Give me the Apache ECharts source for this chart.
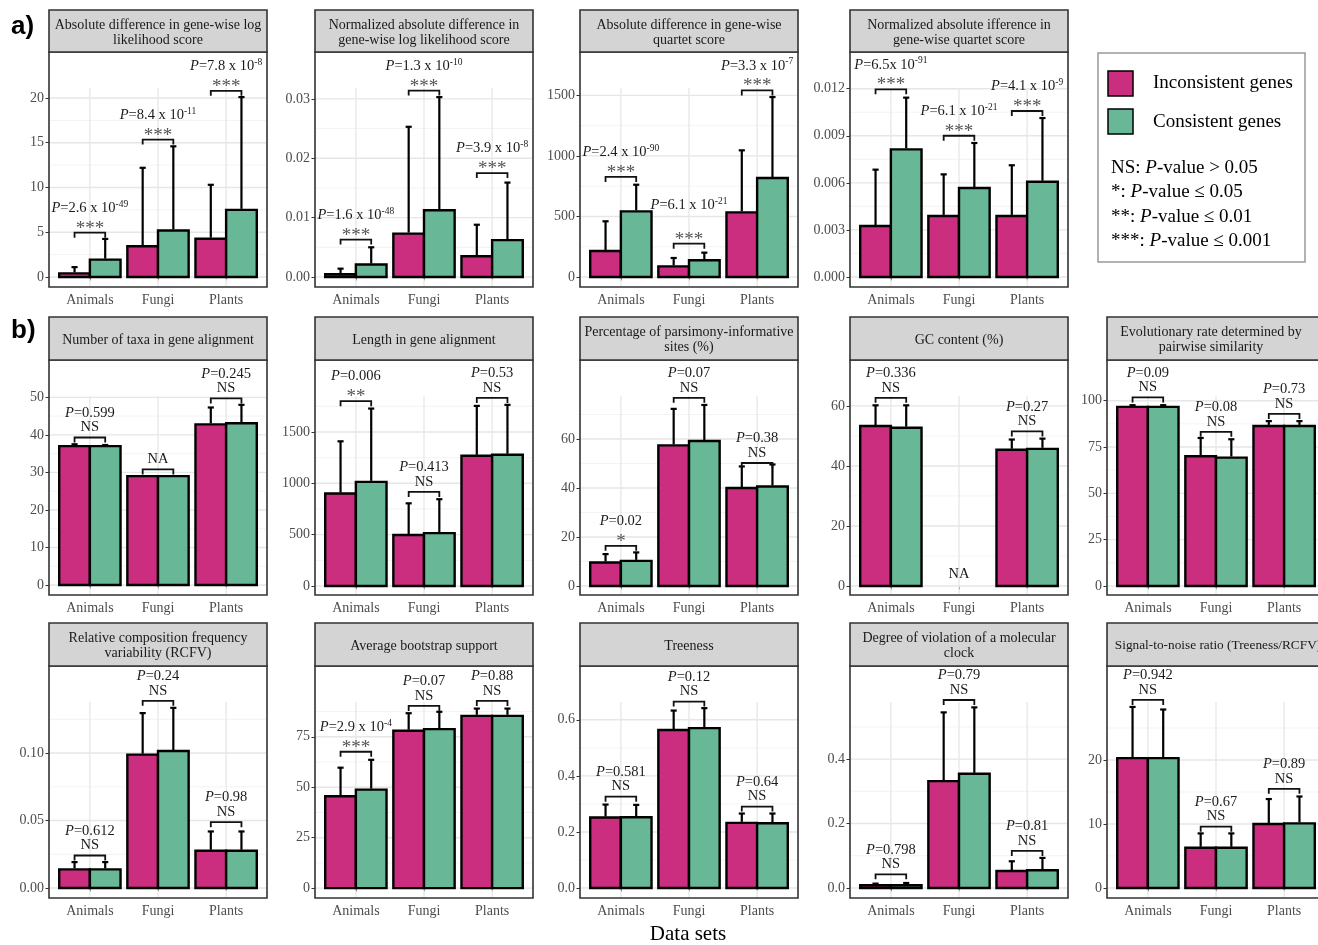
<!DOCTYPE html>
<html>
<head>
<meta charset="utf-8">
<script src="https://cdn.jsdelivr.net/npm/echarts@6/dist/echarts.min.js"></script>
<style>
  html, body { margin: 0; padding: 0; background: #fff; }
  #chart { width: 1318px; height: 945px; }
</style>
</head>
<body>
<div id="chart"></div>
<script>
window.addEventListener('load', () => {

const categories = ['Animals', 'Fungi', 'Plants'];
const groups = ['Inconsistent genes', 'Consistent genes'];

const panelTitles = [
  'Absolute difference in gene-wise log\nlikelihood score',
  'Normalized absolute difference in\ngene-wise log likelihood score',
  'Absolute difference in gene-wise\nquartet score',
  'Normalized absolute ifference in\ngene-wise quartet score',
  'Number of taxa in gene alignment',
  'Length in gene alignment',
  'Percentage of parsimony-informative\nsites (%)',
  'GC content (%)',
  'Evolutionary rate determined by\npairwise similarity',
  'Relative composition frequency\nvariability (RCFV)',
  'Average bootstrap support',
  'Treeness',
  'Degree of violation of a molecular\nclock',
  'Signal-to-noise ratio (Treeness/RCFV)'
];

// mean values (bar heights)
const incMeans = [
  [0.4, 3.43, 4.28], [0.00045, 0.0073, 0.0035], [215, 88, 534], [0.00325, 0.00389, 0.00389],
  [37.0, 29.0, 42.8], [900, 496, 1268], [9.6, 57.4, 40.0], [53.3, null, 45.4], [96.7, 70.0, 86.4],
  [0.0138, 0.0988, 0.0276], [45.5, 78.0, 85.4], [0.2515, 0.5635, 0.2325], [0.0083, 0.3316, 0.0528], [20.3, 6.28, 10.0]
];
const conMeans = [
  [1.94, 5.2, 7.5], [0.0021, 0.01124, 0.0062], [542, 138, 817], [0.00813, 0.00567, 0.00607],
  [37.0, 29.0, 43.1], [1014, 515, 1278], [10.25, 59.2, 40.6], [52.75, null, 45.7], [96.7, 69.3, 86.4],
  [0.0138, 0.1015, 0.0276], [48.8, 78.8, 85.4], [0.2527, 0.5705, 0.231], [0.0083, 0.3544, 0.0549], [20.3, 6.28, 10.1]
];
// upper ends of the error bars
const incErrTop = [
  [1.1, 12.2, 10.3], [0.0014, 0.0253, 0.0088], [460, 157, 1046], [0.00684, 0.00654, 0.00712],
  [37.5, null, 47.3], [1409, 805, 1754], [13.0, 72.3, 48.8], [60.2, null, 48.8], [97.6, 79.9, 89.0],
  [0.0192, 0.1296, 0.0419], [59.7, 86.7, 89.0], [0.2977, 0.633, 0.2657], [0.0135, 0.545, 0.0829], [28.3, 8.53, 13.9]
];
const conErrTop = [
  [4.25, 14.6, 20.1], [0.0050, 0.0303, 0.0159], [762, 201, 1486], [0.01143, 0.00854, 0.01013],
  [37.3, null, 48.0], [1728, 845, 1764], [13.7, 73.9, 49.6], [60.2, null, 49.1], [97.6, 79.2, 89.0],
  [0.0192, 0.1335, 0.0419], [63.6, 87.4, 89.0], [0.2966, 0.6417, 0.2657], [0.0155, 0.5606, 0.0933], [27.9, 8.53, 14.3]
];
// height of the comparison brackets
const bracketY = [
  [4.95, 15.35, 20.8], [0.0063, 0.0314, 0.0175], [826, 275, 1541], [0.01196, 0.0090, 0.01058],
  [39.3, 30.8, 49.7], [1800, 916, 1832], [16.4, 76.8, 50.2], [62.7, null, 51.5], [101.8, 83.2, 92.9],
  [0.0241, 0.1387, 0.0488], [67.6, 90.3, 92.8], [0.326, 0.665, 0.2906], [0.0425, 0.5834, 0.115], [29.4, 9.58, 15.5]
];
const pLabels = [
  ['2.6 x 10^-49', '8.4 x 10^-11', '7.8 x 10^-8'],
  ['1.6 x 10^-48', '1.3 x 10^-10', '3.9 x 10^-8'],
  ['2.4 x 10^-90', '6.1 x 10^-21', '3.3 x 10^-7'],
  ['6.5x 10^-91', '6.1 x 10^-21', '4.1 x 10^-9'],
  ['0.599', null, '0.245'],
  ['0.006', '0.413', '0.53'],
  ['0.02', '0.07', '0.38'],
  ['0.336', null, '0.27'],
  ['0.09', '0.08', '0.73'],
  ['0.612', '0.24', '0.98'],
  ['2.9 x 10^-4', '0.07', '0.88'],
  ['0.581', '0.12', '0.64'],
  ['0.798', '0.79', '0.81'],
  ['0.942', '0.67', '0.89']
];
const sigLabels = [
  ['***', '***', '***'], ['***', '***', '***'], ['***', '***', '***'], ['***', '***', '***'],
  ['NS', 'NA', 'NS'], ['**', 'NS', 'NS'], ['*', 'NS', 'NS'], ['NS', 'NA', 'NS'], ['NS', 'NS', 'NS'],
  ['NS', 'NS', 'NS'], ['***', 'NS', 'NS'], ['NS', 'NS', 'NS'], ['NS', 'NS', 'NS'], ['NS', 'NS', 'NS']
];
// NA label without bracket (GC content, Fungi)
const looseLabels = [{ panel: 7, category: 1, y: 3.9 }];

// y axis: breaks, decimals, limits [bottom, top of panel incl. label space]
const yBreaks = [
  [0, 5, 10, 15, 20], [0, 0.01, 0.02, 0.03], [0, 500, 1000, 1500], [0, 0.003, 0.006, 0.009, 0.012],
  [0, 10, 20, 30, 40, 50], [0, 500, 1000, 1500], [0, 20, 40, 60], [0, 20, 40, 60], [0, 25, 50, 75, 100],
  [0, 0.05, 0.10], [0, 25, 50, 75], [0, 0.2, 0.4, 0.6], [0, 0.2, 0.4], [0, 10, 20]
];
const yDecimals = [0, 2, 0, 3, 0, 0, 0, 0, 0, 2, 0, 1, 1, 0];
const yLimits = [
  [-1.12, 25.14], [-0.00169, 0.0379], [-82.6, 1858], [-0.00064, 0.01434],
  [-2.66, 59.95], [-88, 2201], [-3.69, 92.25], [-3.0, 75.3], [-4.9, 122],
  [-0.0074, 0.1645], [-4.9, 110.1], [-0.0356, 0.792], [-0.0311, 0.689], [-1.57, 34.7]
];

// ---------- layout ----------
const SERIF = "'Liberation Serif', 'DejaVu Serif', serif";
const INC = '#CB2E7F';
const CON = '#68B898';
const colLeft = [49, 315, 580, 850, 1107];
const panelW = 218;
const rows = [
  { stripTop: 10, stripBottom: 52, plotBottom: 287 },
  { stripTop: 317, stripBottom: 360, plotBottom: 595 },
  { stripTop: 623, stripBottom: 666, plotBottom: 898 }
];
const slots = [[0,0],[0,1],[0,2],[0,3],[1,0],[1,1],[1,2],[1,3],[1,4],[2,0],[2,1],[2,2],[2,3],[2,4]];
const GG_PAD = 36;       // space between strip and the gridded area
const pLift = { '2,1': 14 };
const titleShift = { 8: -5, 13: 2 };
const titleSize = { 13: 13.3 };

const richP = {
  n: { fontFamily: SERIF, fontSize: 14.5, fill: '#1a1a1a', lineHeight: 18 },
  i: { fontFamily: SERIF, fontSize: 14.5, fontStyle: 'italic', fill: '#1a1a1a', lineHeight: 18 },
  s: { fontFamily: SERIF, fontSize: 9.5, fill: '#1a1a1a', lineHeight: 9, verticalAlign: 'top' }
};
const pText = (s) => {
  const parts = s.split('^');
  return '{i|P}{n|=' + parts[0] + '}' + (parts[1] ? '{s|' + parts[1] + '}' : '');
};

const minorBreaks = (b) => {
  const out = [];
  for (let k = 0; k < b.length - 1; k++) out.push((b[k] + b[k + 1]) / 2);
  out.push(b[b.length - 1] + (b[1] - b[0]) / 2);
  return out;
};

const option = {
  animation: false,
  backgroundColor: '#fff',
  grid: [], xAxis: [], yAxis: [], series: [], graphic: []
};

panelTitles.forEach((title, i) => {
  const row = rows[slots[i][0]];
  const left = colLeft[slots[i][1]];

  option.grid.push({
    left: left, top: row.stripBottom, width: panelW, height: row.plotBottom - row.stripBottom,
    show: true, borderColor: '#333', borderWidth: 1.6, backgroundColor: '#fff',
    containLabel: false, outerBoundsMode: 'none'
  });

  option.xAxis.push({
    gridIndex: i, type: 'value', min: 0.4, max: 3.6,
    axisLine: { show: false },
    axisTick: { show: true, length: 3.5, customValues: [1, 2, 3], lineStyle: { color: '#333', width: 1 } },
    axisLabel: {
      customValues: [1, 2, 3], formatter: v => categories[Math.round(v) - 1],
      color: '#4D4D4D', fontFamily: SERIF, fontSize: 14, margin: 6
    },
    splitLine: { show: false }
  });

  option.yAxis.push({
    gridIndex: i, type: 'value', min: yLimits[i][0], max: yLimits[i][1],
    axisLine: { show: false },
    axisTick: { show: true, length: 3.5, customValues: yBreaks[i], lineStyle: { color: '#333', width: 1 } },
    axisLabel: {
      customValues: yBreaks[i], formatter: v => v.toFixed(yDecimals[i]),
      color: '#4D4D4D', fontFamily: SERIF, fontSize: 14, margin: 5
    },
    splitLine: { show: false }
  });

  // grid lines
  const lines = []
    .concat(yBreaks[i].map(v => [1, v, 0]))
    .concat(minorBreaks(yBreaks[i]).map(v => [1, v, 1]))
    .concat([1, 2, 3].map(x => [x, 0, 2]));
  option.series.push({
    type: 'custom', xAxisIndex: i, yAxisIndex: i, z: 1, silent: true, clip: false,
    data: lines,
    renderItem: (params, api) => {
      const cs = params.coordSys;
      const top = cs.y + GG_PAD;
      const kind = api.value(2);
      if (kind === 2) {
        const x = api.coord([api.value(0), 0])[0];
        return { type: 'line', shape: { x1: x, y1: cs.y + cs.height - 1, x2: x, y2: top },
          style: { stroke: '#E8E8E8', lineWidth: 1.4 } };
      }
      const y = api.coord([1, api.value(1)])[1];
      if (y < top - 1.5) return null;
      return { type: 'line', shape: { x1: cs.x + 1, y1: y, x2: cs.x + cs.width - 1, y2: y },
        style: { stroke: kind === 0 ? '#E6E6E6' : '#F0F0F0', lineWidth: kind === 0 ? 1.4 : 0.8 } };
    }
  });

  // bars
  [incMeans, conMeans].forEach((means, g) => {
    option.series.push({
      type: 'custom', name: groups[g], xAxisIndex: i, yAxisIndex: i, z: 2, silent: true,
      itemStyle: { color: g === 0 ? INC : CON },
      data: categories.map((c, k) => [k + 1, means[i][k] == null ? '-' : means[i][k]]),
      renderItem: (params, api) => {
        const x = api.value(0), v = api.value(1);
        if (isNaN(v)) return null;
        const x0 = g === 0 ? x - 0.45 : x;
        const p0 = api.coord([x0, v]);
        const p1 = api.coord([x0 + 0.45, 0]);
        return { type: 'rect',
          shape: { x: p0[0], y: p0[1], width: p1[0] - p0[0], height: p1[1] - p0[1] },
          style: { fill: api.visual('color'), stroke: '#000', lineWidth: 2.4 } };
      }
    });
  });

  // error bars
  [[incMeans, incErrTop], [conMeans, conErrTop]].forEach((pair, g) => {
    option.series.push({
      type: 'custom', xAxisIndex: i, yAxisIndex: i, z: 3, silent: true, clip: false,
      data: categories.map((c, k) => [k + 1,
        pair[0][i][k] == null ? '-' : pair[0][i][k],
        pair[1][i][k] == null ? '-' : pair[1][i][k]]),
      renderItem: (params, api) => {
        const x = api.value(0) + (g === 0 ? -0.225 : 0.225);
        const m = api.value(1), e = api.value(2);
        if (isNaN(m) || isNaN(e)) return null;
        const a = api.coord([x, m]);
        const b = api.coord([x, e]);
        const l = api.coord([x - 0.045, e]);
        const r = api.coord([x + 0.045, e]);
        return { type: 'group', children: [
          { type: 'line', shape: { x1: a[0], y1: a[1] - 1, x2: b[0], y2: b[1] }, style: { stroke: '#000', lineWidth: 2.2 } },
          { type: 'line', shape: { x1: l[0], y1: l[1], x2: r[0], y2: r[1] }, style: { stroke: '#000', lineWidth: 2.2 } }
        ] };
      }
    });
  });

  // brackets and significance labels
  option.series.push({
    type: 'custom', xAxisIndex: i, yAxisIndex: i, z: 4, silent: true, clip: false,
    data: categories.map((c, k) => [k + 1, bracketY[i][k] == null ? '-' : bracketY[i][k]]),
    renderItem: (params, api) => {
      const k = params.dataIndex;
      const cx = api.value(0), by = api.value(1);
      const sig = sigLabels[i][k];
      const p = pLabels[i][k];
      const children = [];
      if (isNaN(by)) {
        const loose = looseLabels.find(o => o.panel === i && o.category === k);
        if (loose && sig) {
          const c = api.coord([cx, loose.y]);
          children.push({ type: 'text', x: c[0], y: c[1],
            style: { text: sig, fill: '#1a1a1a', fontFamily: SERIF, fontSize: 14.5, align: 'center', verticalAlign: 'middle' } });
        }
        return { type: 'group', children };
      }
      const L = api.coord([cx - 0.225, by]);
      const R = api.coord([cx + 0.225, by]);
      children.push({ type: 'polyline',
        shape: { points: [[L[0], L[1] + 5], [L[0], L[1]], [R[0], R[1]], [R[0], R[1] + 5]] },
        style: { stroke: '#111', lineWidth: 1.8, fill: null } });
      const mid = (L[0] + R[0]) / 2;
      if (sig) {
        const stars = sig.indexOf('*') === 0;
        children.push({ type: 'text', x: mid, y: L[1] - (stars ? 4 : 10),
          style: { text: sig, fill: stars ? '#555' : '#1a1a1a', fontFamily: SERIF, fontSize: stars ? 19 : 14.5,
            align: 'center', verticalAlign: 'middle' } });
      }
      if (p) {
        const lift = pLift[i + ',' + k] || 0;
        children.push({ type: 'text', x: mid, y: L[1] - 24.5 - lift,
          style: { text: pText(p), rich: richP, align: 'center', verticalAlign: 'middle' } });
      }
      return { type: 'group', children };
    }
  });

  // strip
  option.graphic.push({
    type: 'rect', silent: true,
    shape: { x: left, y: row.stripTop, width: panelW, height: row.stripBottom - row.stripTop },
    style: { fill: '#D4D4D4', stroke: '#333', lineWidth: 1.6 }
  });
  option.graphic.push({
    type: 'text', silent: true,
    x: left + panelW / 2 + (titleShift[i] || 0), y: (row.stripTop + row.stripBottom) / 2 + 1.5,
    style: { text: title, fill: '#1a1a1a', fontFamily: SERIF, fontSize: titleSize[i] || 14, lineHeight: 15,
      align: 'center', verticalAlign: 'middle', textAlign: 'center', textVerticalAlign: 'middle' }
  });
});

// panel tags and axis title
option.graphic.push(
  { type: 'text', x: 11, y: 27, silent: true,
    style: { text: 'a)', fill: '#000', font: "bold 26px 'Liberation Sans', Arial, sans-serif", verticalAlign: 'middle', textVerticalAlign: 'middle' } },
  { type: 'text', x: 11, y: 331, silent: true,
    style: { text: 'b)', fill: '#000', font: "bold 26px 'Liberation Sans', Arial, sans-serif", verticalAlign: 'middle', textVerticalAlign: 'middle' } },
  { type: 'text', x: 688, y: 934, silent: true,
    style: { text: 'Data sets', fill: '#000', fontFamily: SERIF, fontSize: 21, align: 'center', verticalAlign: 'middle', textAlign: 'center', textVerticalAlign: 'middle' } }
);

// legend
const legendRich = {
  n: { fontFamily: SERIF, fontSize: 19, fill: '#000' },
  i: { fontFamily: SERIF, fontSize: 19, fontStyle: 'italic', fill: '#000' }
};
const sigNotes = [
  '{n|NS: }{i|P}{n|-value > 0.05}',
  '{n|*: }{i|P}{n|-value ≤ 0.05}',
  '{n|**: }{i|P}{n|-value ≤ 0.01}',
  '{n|***: }{i|P}{n|-value ≤ 0.001}'
];
option.graphic.push(
  { type: 'rect', silent: true, shape: { x: 1098, y: 53, width: 207, height: 209 },
    style: { fill: '#fff', stroke: '#999', lineWidth: 1.5 } },
  { type: 'rect', silent: true, shape: { x: 1108, y: 71, width: 25, height: 25 },
    style: { fill: INC, stroke: '#000', lineWidth: 1.5 } },
  { type: 'rect', silent: true, shape: { x: 1108, y: 109, width: 25, height: 25 },
    style: { fill: CON, stroke: '#000', lineWidth: 1.5 } },
  { type: 'text', silent: true, x: 1153, y: 83,
    style: { text: groups[0], fill: '#000', fontFamily: SERIF, fontSize: 19, verticalAlign: 'middle', textVerticalAlign: 'middle' } },
  { type: 'text', silent: true, x: 1153, y: 122,
    style: { text: groups[1], fill: '#000', fontFamily: SERIF, fontSize: 19, verticalAlign: 'middle', textVerticalAlign: 'middle' } }
);
sigNotes.forEach((t, k) => {
  option.graphic.push({ type: 'text', silent: true, x: 1111, y: [168, 192, 217, 241][k],
    style: { text: t, rich: legendRich, verticalAlign: 'middle', textVerticalAlign: 'middle' } });
});

const chart = echarts.init(document.getElementById('chart'), null, { renderer: 'canvas' });
chart.setOption(option);

});
</script>
</body>
</html>
